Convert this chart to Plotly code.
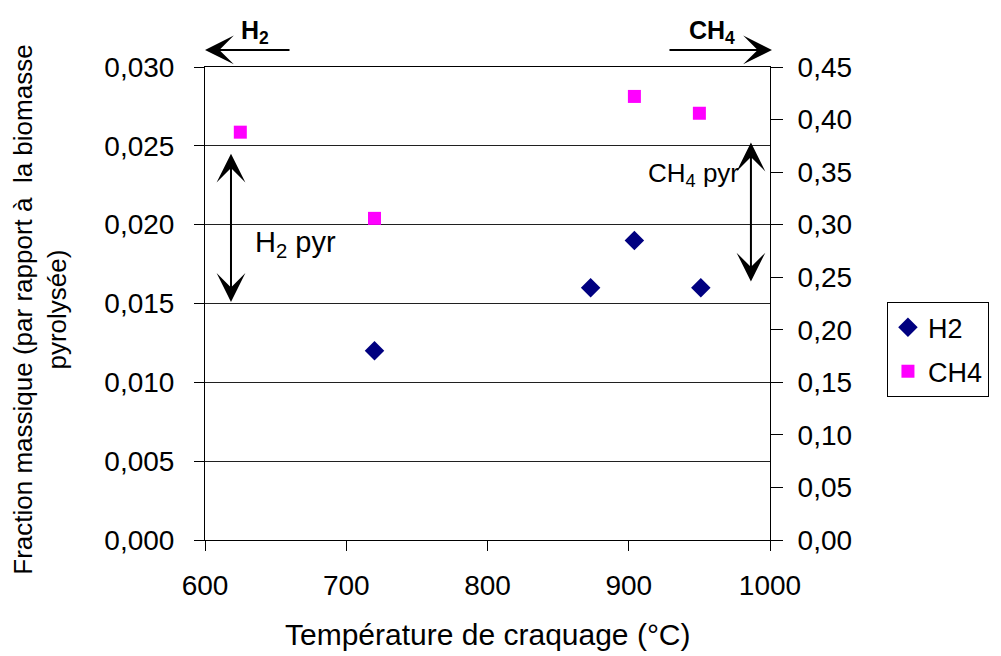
import plotly.graph_objects as go

# temperatures (°C) and mass fractions
h2_temp = [720, 873, 904, 951]
h2_frac = [0.012, 0.016, 0.019, 0.016]
ch4_temp = [625, 720, 904, 950]
ch4_frac = [0.388, 0.306, 0.422, 0.406]

x_ticks = [600, 700, 800, 900, 1000]

FONT = "Liberation Sans, Arial, sans-serif"
ARROW = dict(arrowhead=3, arrowsize=2.4, arrowwidth=2, arrowcolor='black')

fig = go.Figure()
fig.add_trace(go.Scatter(
    x=h2_temp, y=h2_frac, mode='markers', name='H2', legendgroup='h2',
    marker=dict(symbol='diamond', size=15, color='#000080'),
))
fig.add_trace(go.Scatter(
    x=ch4_temp, y=ch4_frac, mode='markers', name='CH4', legendgroup='ch4',
    yaxis='y2', marker=dict(symbol='square', size=13, color='#ff00ff'),
))

annotations = [
    # axis titles
    dict(text="Fraction massique (par rapport à  la biomasse<br>pyrolysée)",
         xref='paper', yref='paper', x=-0.291, y=0.486, textangle=-90,
         xanchor='center', yanchor='middle',
         showarrow=False, font=dict(size=26)),
    dict(text="Température de craquage (°C)", xref='paper', yref='paper',
         x=0.5, y=-0.2, xanchor='center', yanchor='middle',
         showarrow=False, font=dict(size=30)),
    # side labels above the plot
    dict(text="<b>H<sub>2</sub></b>", xref='paper', yref='paper',
         x=0.088, y=1.075, xanchor='center', yanchor='middle',
         showarrow=False, font=dict(size=25)),
    dict(text="<b>CH<sub>4</sub></b>", xref='paper', yref='paper',
         x=0.897, y=1.075, xanchor='center', yanchor='middle',
         showarrow=False, font=dict(size=25)),
    dict(text="", xref='paper', yref='paper', x=0.0, y=1.036,
         axref='pixel', ayref='pixel', ax=86, ay=0, showarrow=True, **ARROW),
    dict(text="", xref='paper', yref='paper', x=1.0035, y=1.036,
         axref='pixel', ayref='pixel', ax=-104, ay=0, showarrow=True, **ARROW),
    # pyrolysis ranges
    dict(text="", x=618.4, y=0.0151, axref='x', ayref='y',
         ax=618.4, ay=0.0246, showarrow=True, arrowside='end+start', **ARROW),
    dict(text="H<sub>2</sub> pyr", x=634, y=0.0188, xanchor='left',
         showarrow=False, font=dict(size=29)),
    dict(text="", x=986.5, y=0.0164, axref='x', ayref='y',
         ax=986.5, ay=0.0253, showarrow=True, arrowside='end+start', **ARROW),
    dict(text="CH<sub>4</sub> pyr", x=979.5, y=0.0232, xanchor='right',
         showarrow=False, font=dict(size=26)),
]

fig.update_layout(
    width=993, height=648,
    margin=dict(l=197, r=231, t=59, b=116),
    paper_bgcolor='white', plot_bgcolor='white',
    font=dict(family=FONT, size=28, color='black'),
    separators=', ',
    xaxis=dict(range=[600, 1000], tickvals=x_ticks, showgrid=False,
               showline=True, linecolor='black', linewidth=1, mirror=True,
               ticks='outside', ticklen=10, tickcolor='black',
               zeroline=False, ticklabelstandoff=10),
    yaxis=dict(range=[0, 0.030], dtick=0.005, tickformat='.3f',
               showgrid=True, gridcolor='#202020', gridwidth=1,
               showline=True, linecolor='black', linewidth=1,
               ticks='outside', ticklen=10, tickcolor='black',
               zeroline=False, ticklabelstandoff=14),
    yaxis2=dict(range=[0, 0.45], dtick=0.05, tickformat='.2f',
                overlaying='y', side='right', showgrid=False,
                showline=True, linecolor='black', linewidth=1,
                ticks='outside', ticklen=12, tickcolor='black',
                zeroline=False, ticklabelstandoff=9),
    legend=dict(x=1.207, y=0.503, xanchor='left', yanchor='top',
                bordercolor='black', borderwidth=1, bgcolor='white',
                font=dict(size=27), tracegroupgap=6),
    annotations=annotations,
)

fig.write_html("out.html")
